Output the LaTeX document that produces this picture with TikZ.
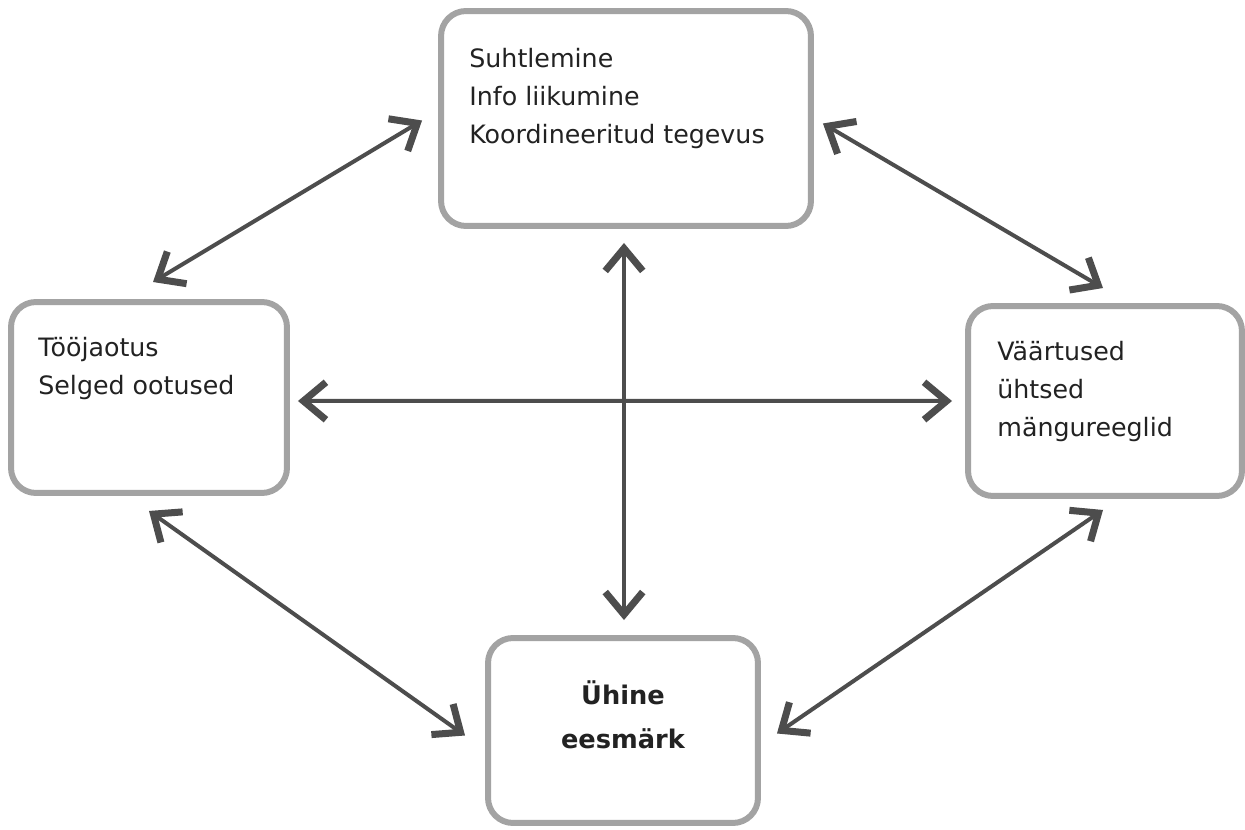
\documentclass[tikz,border=0pt]{standalone}
\usepackage{fontspec}
\setmainfont{DejaVu Sans}
\usetikzlibrary{arrows.meta,positioning}
\definecolor{boxgray}{HTML}{A3A3A3}
\definecolor{arrowgray}{HTML}{4D4D4D}
\definecolor{textblack}{HTML}{222222}

\begin{document}
\begin{tikzpicture}[x=0.02cm,y=-0.02cm,
    box/.style={draw=boxgray,line width=1.2mm,rounded corners=5mm,fill=white,inner sep=0pt},
    txt/.style={inner sep=0pt,align=left,text=textblack,
      font=\fontsize{14.4}{21.5}\selectfont},
    goal/.style={inner sep=0pt,align=center,text=textblack,
      font=\fontsize{14.6}{25.5}\selectfont\bfseries},
    barb/.tip={Straight Barb[length=4.5mm,width=7.5mm,line width=1.4mm]},
    link/.style={draw=arrowgray,line width=0.8mm,barb-barb}]
  % Page size
  \useasboundingbox (0,0) rectangle (1245,830);
  %
  % Boxes
  \node[box,minimum width=7.4cm,minimum height=4.3cm] (top) at (626,118.5) {};
  \node[box,minimum width=5.52cm,minimum height=3.82cm] (lft) at (149,397.5) {};
  \node[box,minimum width=5.48cm,minimum height=3.8cm] (rgt) at (1105,401) {};
  \node[box,minimum width=5.4cm,minimum height=3.7cm] (bot) at (623,730.5) {};
  %
  % Texts
  \node[txt,below right=0.8cm and 0.62cm of top.north west] (toptxt)
    {Suhtlemine\\Info liikumine\\Koordineeritud tegevus};
  \node[txt,below right=0.76cm and 0.6cm of lft.north west] (lfttxt)
    {Tööjaotus\\Selged ootused};
  \node[txt,below right=0.76cm and 0.64cm of rgt.north west] (rgttxt)
    {Väärtused\\ühtsed\\mängureeglid};
  \node[goal,below=0.9cm of bot.north] (bottxt) {Ühine\\eesmärk};
  %
  % Arrows
  \draw[link] ([shift={(4,-17)}]lft.north) -- ([shift={(-16,2)}]top.west);
  \draw[link] ([shift={(9,5)}]top.east) -- ([shift={(-2,-15)}]rgt.north);
  \draw[link] ([shift={(-2,14)}]top.south) -- ([shift={(1,-15)}]bot.north);
  \draw[link] ([shift={(8,3.5)}]lft.east) -- ([shift={(-13,0)}]rgt.west);
  \draw[link] ([shift={(0,15)}]lft.south) -- ([shift={(-20,5)}]bot.west);
  \draw[link] ([shift={(-2,11)}]rgt.south) -- ([shift={(16,3)}]bot.east);
\end{tikzpicture}
\end{document}
